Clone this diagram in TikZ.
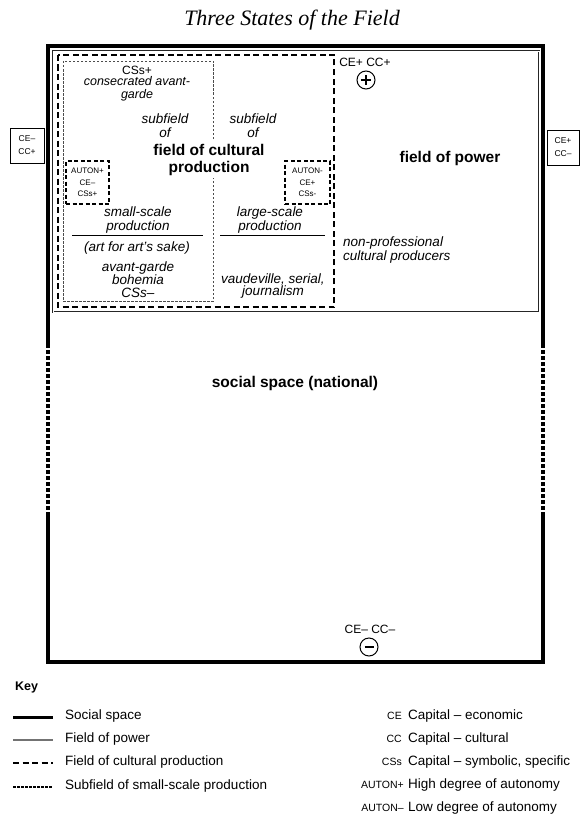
\documentclass[tikz,border=0pt]{standalone}
\usepackage{fontspec}
\setmainfont{Liberation Sans}
\newfontfamily\titlefont{Liberation Serif}
\usetikzlibrary{calc}
\begin{document}
\begin{tikzpicture}[x=1pt,y=-1pt,
  social/.style={line width=3.2pt, line join=miter},
  socialdash/.style={line width=3.6pt, dash pattern=on 4pt off 2pt},
  powerline/.style={draw=black!85, double=white, line width=0.9pt, double distance=0.9pt},
  culture/.style={line width=1.4pt, dash pattern=on 6pt off 3.5pt},
  subfld/.style={draw=black!70, line width=0.9pt, dash pattern=on 2.5pt off 1.5pt},
  autbox/.style={draw, line width=1.2pt, dash pattern=on 4pt off 2.5pt, inner sep=0pt, align=center, font=\fontsize{8}{11.5}\selectfont},
  sidebox/.style={draw, line width=1pt, inner sep=0pt, align=center, font=\fontsize{8.5}{13}\selectfont},
  itx/.style={font=\fontsize{13.5}{14}\selectfont\itshape, align=center, inner sep=0pt},
  bigb/.style={font=\fontsize{15.5}{17}\selectfont\bfseries, align=center, inner sep=0pt},
  plain/.style={font=\fontsize{12}{13}\selectfont, align=center, inner sep=0pt},
  keytext/.style={font=\fontsize{13.5}{15}\selectfont, inner sep=0pt, anchor=mid west},
  keycode/.style={font=\fontsize{10.5}{12}\selectfont, inner sep=0pt, anchor=mid east},
  sepline/.style={line width=0.9pt},
  signcircle/.style={draw, circle, line width=1pt, minimum size=18pt, inner sep=0pt}
]
\useasboundingbox (0,0) rectangle (582,816);

% title
\node[font=\fontsize{22}{24}\selectfont\titlefont\itshape, inner sep=0pt] (title) at (292,20) {Three States of the Field};

% social space frame
\draw[social] (48,344) -- (48,46) -- (543,46) -- (543,344);
\draw[socialdash] (48,344) -- (48,515);
\draw[socialdash] (543,344) -- (543,515);
\draw[social] (48,515) -- (48,662) -- (543,662) -- (543,515);

% field of power
\draw[powerline] (53,51) rectangle (539,312);
% field of cultural production
\draw[culture] (58,55) rectangle (334,307);
% subfield of small-scale production
\draw[subfld] (63,61) rectangle (213,301);

% side boxes
\node[sidebox, minimum width=34pt, minimum height=35pt] (leftbox) at (27,145.5) {CE–\\CC+};
\node[sidebox, minimum width=32pt, minimum height=35pt] (rightbox) at (563,147.5) {CE+\\CC–};

% autonomy boxes
\node[autbox, minimum width=43pt, minimum height=43pt] (autplus) at (87.5,182.5) {AUTON+\\CE–\\CSs+};
\node[autbox, minimum width=45pt, minimum height=43pt] (autminus) at (307.5,182.5) {AUTON-\\CE+\\CSs-};

% texts in field of cultural production
\node[plain] (cssplus) at (137,70) {CSs+};
\node[itx, font=\fontsize{12.5}{13}\selectfont\itshape] (consec) at (137,88.5) {consecrated avant-\\garde};
\node[itx] (subl) at (165,126) {subfield\\of};
\node[itx] (subr) at (253,126) {subfield\\of};
\node[bigb, fill=white, inner ysep=3pt, inner xsep=1pt] (fcp) at (209,159.5) {field of cultural\\production};
\node[itx] (small) at (138,220) {small-scale\\production};
\node[itx] (artsake) at (137,248) {(art for art's sake)};
\node[itx, font=\fontsize{13.5}{12.5}\selectfont\itshape] (avant) at (138,279.5) {avant-garde\\bohemia\\CSs–};
\node[itx] (large) at (270,220) {large-scale\\production};
\node[itx, font=\fontsize{13.5}{12.5}\selectfont\itshape] (vaud) at (273,286) {vaudeville, serial,\\journalism};

\coordinate (s1a) at (72,235); \coordinate (s1b) at (203,235);
\coordinate (s2a) at (220,235); \coordinate (s2b) at (325,235);
\draw[sepline] (s1a) -- (s1b);
\draw[sepline] (s2a) -- (s2b);

% field of power
\node[plain] (ceplus) at (365,62) {CE+ CC+};
\node[signcircle, path picture={\draw[line width=1.2pt] ($(path picture bounding box.center)+(-5,0)$) -- ($(path picture bounding box.center)+(5,0)$) ($(path picture bounding box.center)+(0,-5)$) -- ($(path picture bounding box.center)+(0,5)$);}] (plus) at (366,80) {};
\node[bigb] (fpower) at (450,158) {field of power};
\node[itx, align=left, anchor=west] (nonprof) at (343,250.5) {non-professional\\cultural producers};

% social space
\node[bigb] (social) at (295,383) {social space (national)};
\node[plain] (ceminus) at (370,629) {CE– CC–};
\node[signcircle, path picture={\draw[line width=2.4pt] ($(path picture bounding box.center)+(-4.5,0)$) -- ($(path picture bounding box.center)+(4.5,0)$);}] (minus) at (369,647) {};

% key
\node[font=\fontsize{12.5}{14}\selectfont\bfseries, inner sep=0pt, anchor=mid west] (key) at (15,688) {Key};
\coordinate (k1a) at (13,717); \coordinate (k1b) at (53,717);
\coordinate (k2a) at (13,740); \coordinate (k2b) at (53,740);
\coordinate (k3a) at (13,763); \coordinate (k3b) at (53,763);
\coordinate (k4a) at (13,787); \coordinate (k4b) at (53,787);
\draw[line width=3pt] (k1a) -- (k1b);
\draw[draw=black!55, line width=2.2pt] (k2a) -- (k2b);
\draw[culture] (k3a) -- (k3b);
\draw[subfld, draw=black, line width=1.1pt] (k4a) -- (k4b);
\node[keytext] (t1) at (65,717) {Social space};
\node[keytext] (t2) at (65,740) {Field of power};
\node[keytext] (t3) at (65,763) {Field of cultural production};
\node[keytext] (t4) at (65,787) {Subfield of small-scale production};

\node[keycode] (c1) at (402,717) {CE};
\node[keycode] (c2) at (402,740) {CC};
\node[keycode] (c3) at (402,763) {CSs};
\node[keycode] (c4) at (404,786) {AUTON+};
\node[keycode] (c5) at (404,809) {AUTON–};
\node[keytext] (d1) at (408,717) {Capital – economic};
\node[keytext] (d2) at (408,740) {Capital – cultural};
\node[keytext] (d3) at (408,763) {Capital – symbolic, specific};
\node[keytext] (d4) at (408,786) {High degree of autonomy};
\node[keytext] (d5) at (408,809) {Low degree of autonomy};
\end{tikzpicture}
\end{document}
